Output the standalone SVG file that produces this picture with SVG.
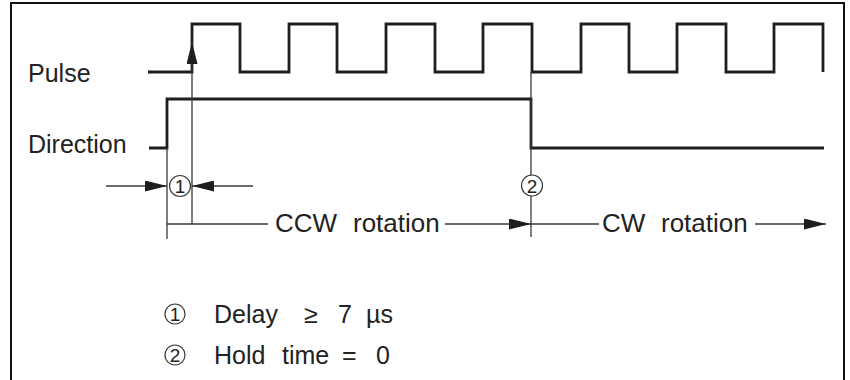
<svg xmlns="http://www.w3.org/2000/svg" width="850" height="380" viewBox="0 0 850 380">
<defs>
<style>
.sig{fill:none;stroke:#1e1e1e;stroke-width:2.8;stroke-linejoin:miter}
.thin{fill:none;stroke:#3a3a3a;stroke-width:1.3}
.frame{fill:none;stroke:#111;stroke-width:2}
.lbl{font-family:"Liberation Sans",Arial,sans-serif;fill:#222}
.num{font-family:"Liberation Sans",Arial,sans-serif;fill:#222;font-size:19px;text-anchor:middle}
.circ{fill:#fff;stroke:#3a3a3a;stroke-width:1.2}
</style>
<marker id="ah" viewBox="0 0 22 11" refX="22" refY="5.5" markerWidth="22" markerHeight="11" markerUnits="userSpaceOnUse" orient="auto">
<path d="M0,0 L22,5.5 L0,11 Z" fill="#1e1e1e"/>
</marker>
</defs>
<rect x="0" y="0" width="850" height="380" fill="#fff"/>
<path class="frame" d="M11,380 V3 H844 V380"/>

<g id="pulse">
<path class="sig" d="M148,72 H192 V24 H240 V72 H289 V24 H337 V72 H386 V24 H435 V72 H483 V24 H532 V72 H581 V24 H629 V72 H677 V24 H726 V72 H774 V24 H823 V72"/>
<text class="lbl" x="28" y="82" font-size="25">Pulse</text>
</g>
<g id="direction">
<path class="sig" d="M149,148 H167 V99 H531 V148 H824"/>
<text class="lbl" x="28" y="153" font-size="25">Direction</text>
</g>

<g id="connectors">
<line class="thin" x1="192" y1="224" x2="192" y2="42" marker-end="url(#ah)"/>
<line class="thin" x1="167" y1="148" x2="167" y2="239"/>
<line class="thin" x1="531" y1="72" x2="531" y2="237"/>
<line class="thin" x1="106" y1="186" x2="167" y2="186" marker-end="url(#ah)"/>
<line class="thin" x1="253" y1="186" x2="192" y2="186" marker-end="url(#ah)"/>
<line class="thin" x1="167" y1="224" x2="268" y2="224"/>
<line class="thin" x1="445" y1="224" x2="531" y2="224" marker-end="url(#ah)"/>
<line class="thin" x1="531" y1="224" x2="599" y2="224"/>
<line class="thin" x1="755" y1="224" x2="826" y2="224" marker-end="url(#ah)"/>
</g>

<g id="marker1">
<circle class="circ" cx="180" cy="186" r="10.5"/>
<text class="num" x="180" y="193">1</text>
</g>
<g id="marker2">
<circle class="circ" cx="532" cy="185.5" r="10.5"/>
<text class="num" x="532" y="192.5">2</text>
</g>

<g id="ccw">
<text class="lbl" font-size="26" y="232"><tspan x="275">CCW</tspan><tspan x="353">rotation</tspan></text>
</g>
<g id="cw">
<text class="lbl" font-size="26" y="232"><tspan x="602">CW</tspan><tspan x="661">rotation</tspan></text>
</g>

<g id="legend">
<circle class="circ" cx="175" cy="314" r="10"/>
<text class="num" x="175" y="321">1</text>
<text class="lbl" font-size="25" y="323"><tspan x="214">Delay</tspan><tspan x="304">≥</tspan><tspan x="338">7</tspan><tspan x="366">µs</tspan></text>
<circle class="circ" cx="175" cy="355" r="10"/>
<text class="num" x="175" y="362">2</text>
<text class="lbl" font-size="25" y="364"><tspan x="214">Hold</tspan><tspan x="282">time</tspan><tspan x="342">=</tspan><tspan x="376">0</tspan></text>
</g>
</svg>
